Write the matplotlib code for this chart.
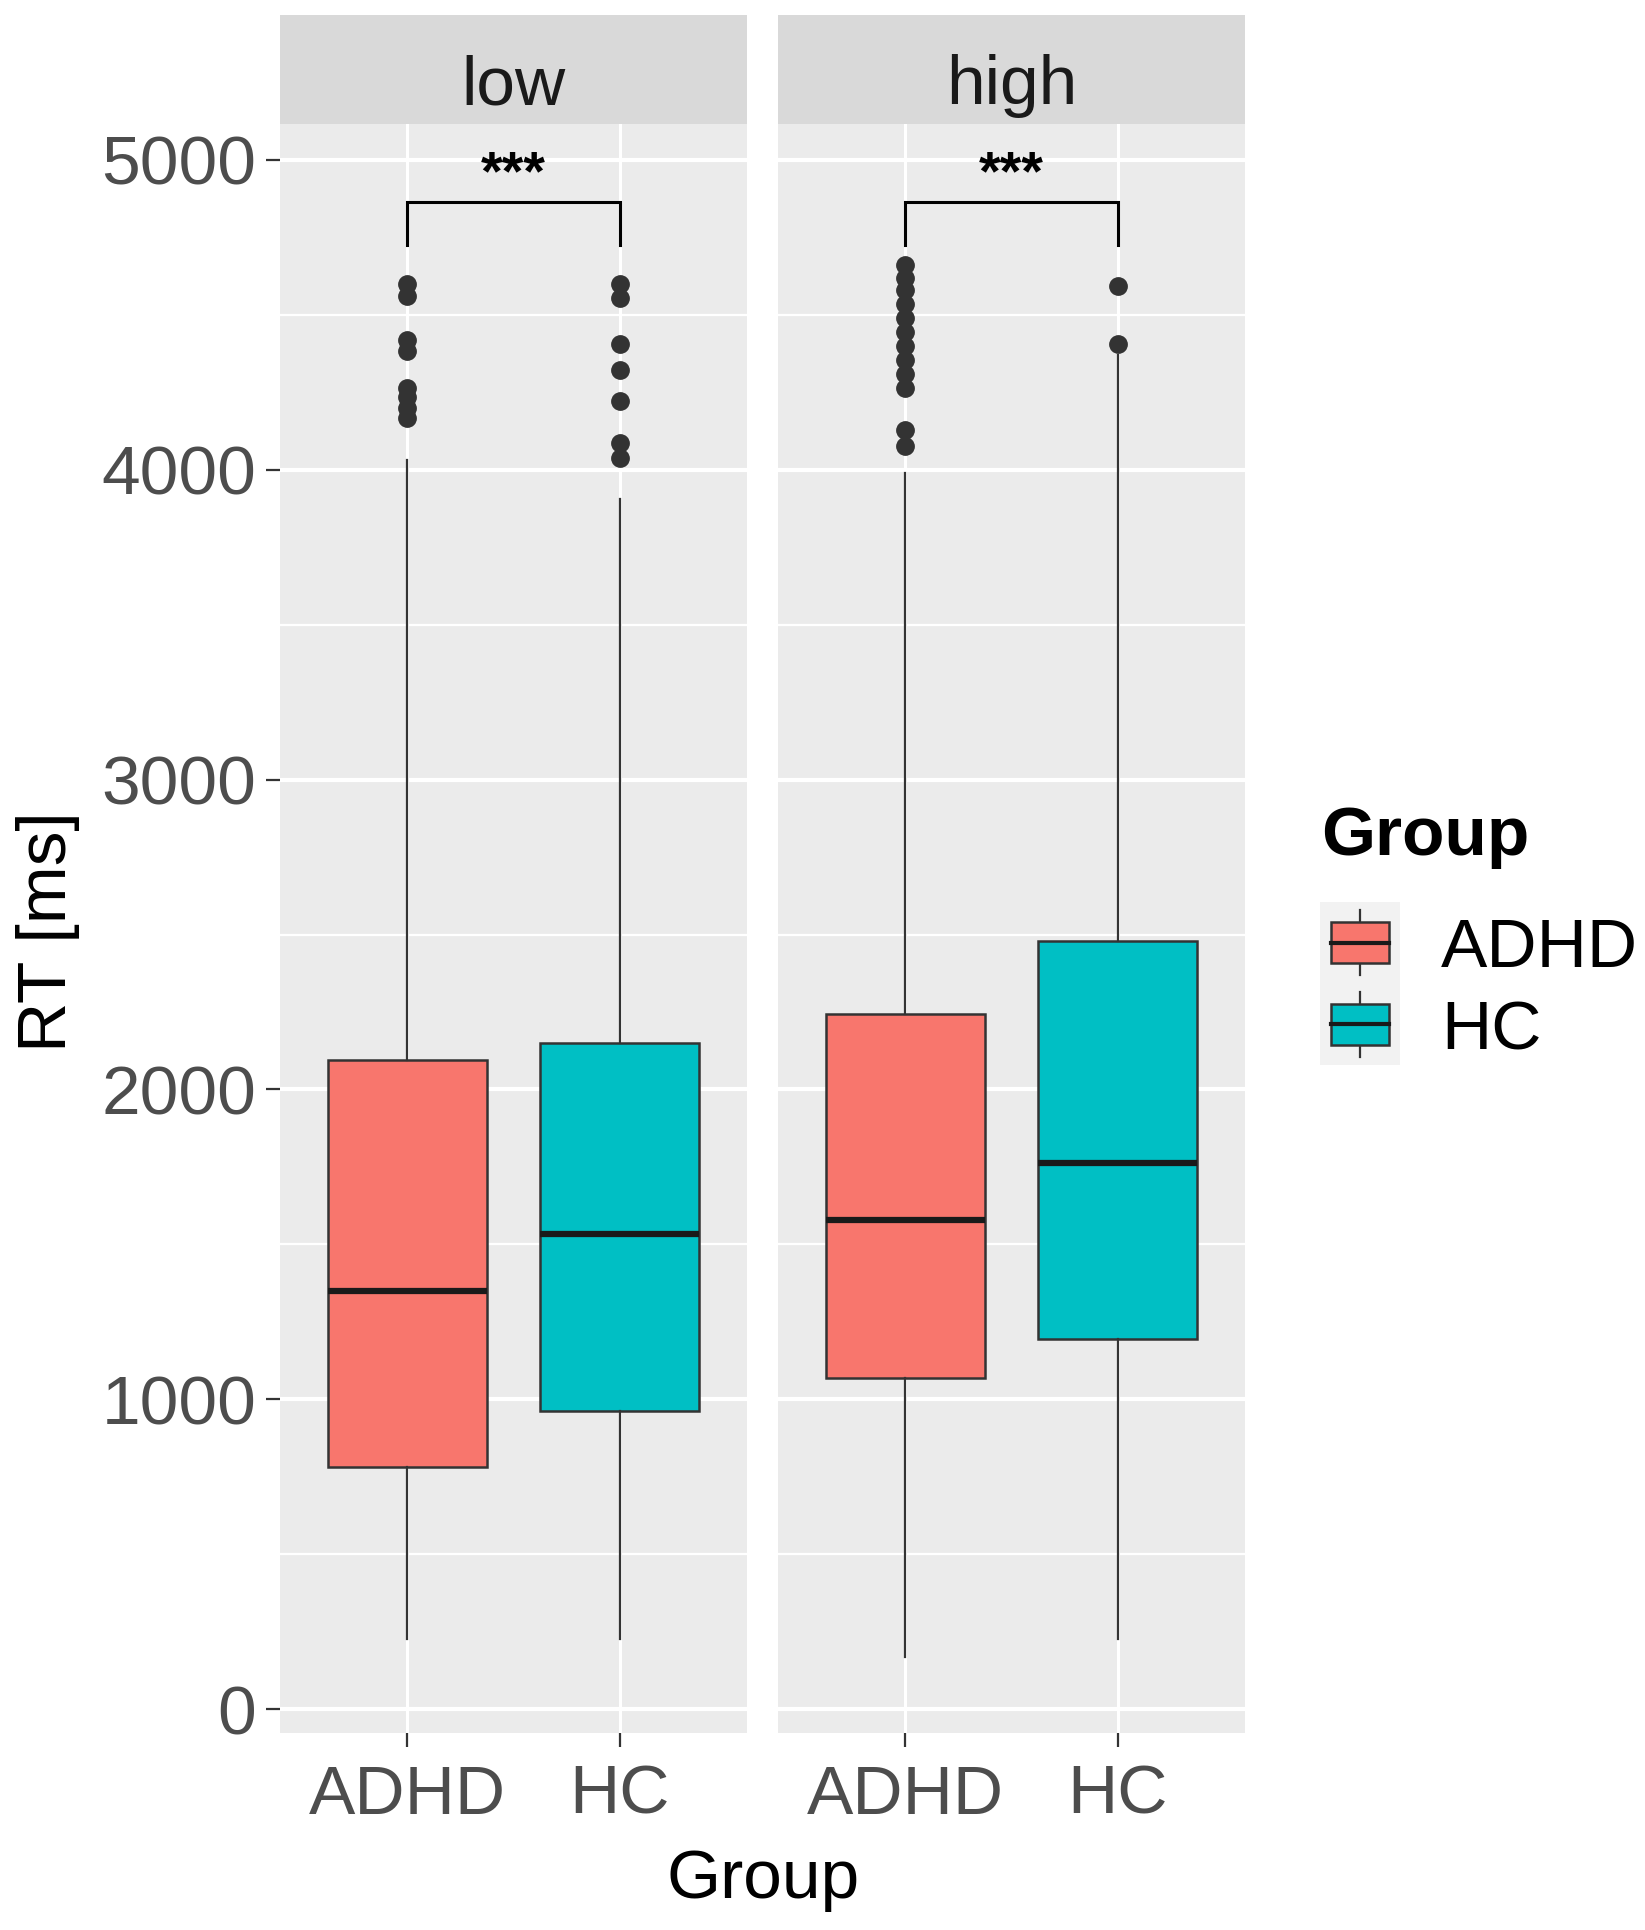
import numpy as np
import matplotlib.pyplot as plt
from matplotlib.patches import Rectangle

plt.rcParams["font.family"] = ["Liberation Sans", "DejaVu Sans"]

# values
panels = ["low", "high"]
groups = ["ADHD", "HC"]
colors = ["#F8766D", "#00BFC4"]

q1 = {"low": [781, 961], "high": [1068, 1196]}
median = {"low": [1350, 1534], "high": [1578, 1764]}
q3 = {"low": [2095, 2151], "high": [2243, 2480]}
whislo = {"low": [226, 226], "high": [168, 226]}
whishi = {"low": [4031, 3907], "high": [3988, 4370]}
fliers = {
    "low": [[4599, 4560, 4420, 4383, 4265, 4235, 4198, 4167],
            [4599, 4556, 4407, 4321, 4222, 4086, 4037]],
    "high": [[4660, 4620, 4580, 4535, 4490, 4445, 4400, 4355, 4310, 4265, 4130, 4076],
             [4593, 4407]],
}
bracket_y = 4864
bracket_drop = 4726
sig_label = "***"
yticks = [0, 1000, 2000, 3000, 4000, 5000]
yminor = [500, 1500, 2500, 3500, 4500]

W, H = 1645, 1930
fig = plt.figure(figsize=(W / 100, H / 100), dpi=100)

PANEL_BG = "#EBEBEB"
STRIP_BG = "#D9D9D9"
DARK = "#333333"
TXT = "#4D4D4D"

lefts = [280, 778]
pw = 467
pbot, ptop = 1733, 124
stop = 15

for i, p in enumerate(panels):
    ax = fig.add_axes([lefts[i] / W, 1 - pbot / H, pw / W, (pbot - ptop) / H])
    ax.set_facecolor(PANEL_BG)
    ax.set_xlim(0.4, 2.6)
    ax.set_ylim(-77, 5116)
    for s in ax.spines.values():
        s.set_visible(False)
    ax.set_axisbelow(True)
    for y in yticks:
        ax.axhline(y, color="white", lw=3.0, zorder=0)
    for y in yminor:
        ax.axhline(y, color="white", lw=1.6, zorder=0)
    for x in [1, 2]:
        ax.axvline(x, color="white", lw=2.2, zorder=0)

    stats = []
    for j, g in enumerate(groups):
        stats.append(dict(med=median[p][j], q1=q1[p][j], q3=q3[p][j],
                          whislo=whislo[p][j], whishi=whishi[p][j],
                          fliers=fliers[p][j], label=g))
    bp = ax.bxp(stats, positions=[1, 2], widths=0.75, patch_artist=True,
                showcaps=False,
                boxprops=dict(edgecolor=DARK, linewidth=1.8),
                whiskerprops=dict(color=DARK, linewidth=1.6),
                medianprops=dict(color="#1A1A1A", linewidth=4.5),
                flierprops=dict(marker="o", markersize=12.5, markerfacecolor=DARK,
                                markeredgecolor=DARK, linestyle="none"))
    for patch, c in zip(bp["boxes"], colors):
        patch.set_facecolor(c)

    # significance bracket
    ax.plot([1, 1, 2, 2], [bracket_drop, bracket_y, bracket_y, bracket_drop],
            color="black", lw=2.2, solid_joinstyle="miter")
    ax.text(1.5, 4905, sig_label, ha="center", va="baseline", fontsize=40,
            fontweight="bold", color="black")

    ax.set_xticks([1, 2])
    ax.set_xticklabels(groups)
    ax.set_yticks(yticks)
    ax.tick_params(axis="both", length=10, width=1.6, color=DARK,
                   labelsize=50, labelcolor=TXT)
    ax.tick_params(axis="x", pad=12)
    ax.tick_params(axis="y", pad=7)
    if i == 1:
        ax.tick_params(axis="y", left=False, labelleft=False)

    # facet strip
    sax = fig.add_axes([lefts[i] / W, 1 - ptop / H, pw / W, (ptop - stop) / H])
    sax.set_facecolor(STRIP_BG)
    sax.set_xticks([])
    sax.set_yticks([])
    for s in sax.spines.values():
        s.set_visible(False)
    sax.text(0.5, 0.18, p, ha="center", va="baseline", fontsize=50,
             color="#1A1A1A", transform=sax.transAxes)

# axis titles
fig.text(763 / W, 1 - 1898 / H, "Group", ha="center", va="baseline", fontsize=50)
fig.text(48 / W, 1 - 932 / H, "RT [ms]", ha="center", va="center",
         rotation=90, fontsize=50)

# legend
fig.text(1321 / W, 1 - 855 / H, "Group", ha="left", va="baseline",
         fontsize=50, fontweight="bold")
lax = fig.add_axes([1320 / W, 1 - 1065 / H, 80 / W, 163 / H])
lax.set_xlim(0, 1)
lax.set_ylim(0, 2)
lax.set_axis_off()
lax.add_patch(Rectangle((0, 0), 1, 2, facecolor="#F2F2F2", edgecolor="none"))
for j, (g, c) in enumerate(zip(groups, colors)):
    base = 1 - j
    lax.plot([0.5, 0.5], [base + 0.1, base + 0.9], color=DARK, lw=1.6)
    lax.add_patch(Rectangle((0.14, base + 0.25), 0.72, 0.5, facecolor=c,
                            edgecolor=DARK, lw=1.8, zorder=3))
    lax.plot([0.14, 0.86], [base + 0.5, base + 0.5], color="#1A1A1A", lw=3,
             zorder=4)
    fig.text(1441 / W, 1 - [949, 1032][j] / H, g, ha="left", va="center",
             fontsize=50)

fig.savefig("out.png", dpi=100)
